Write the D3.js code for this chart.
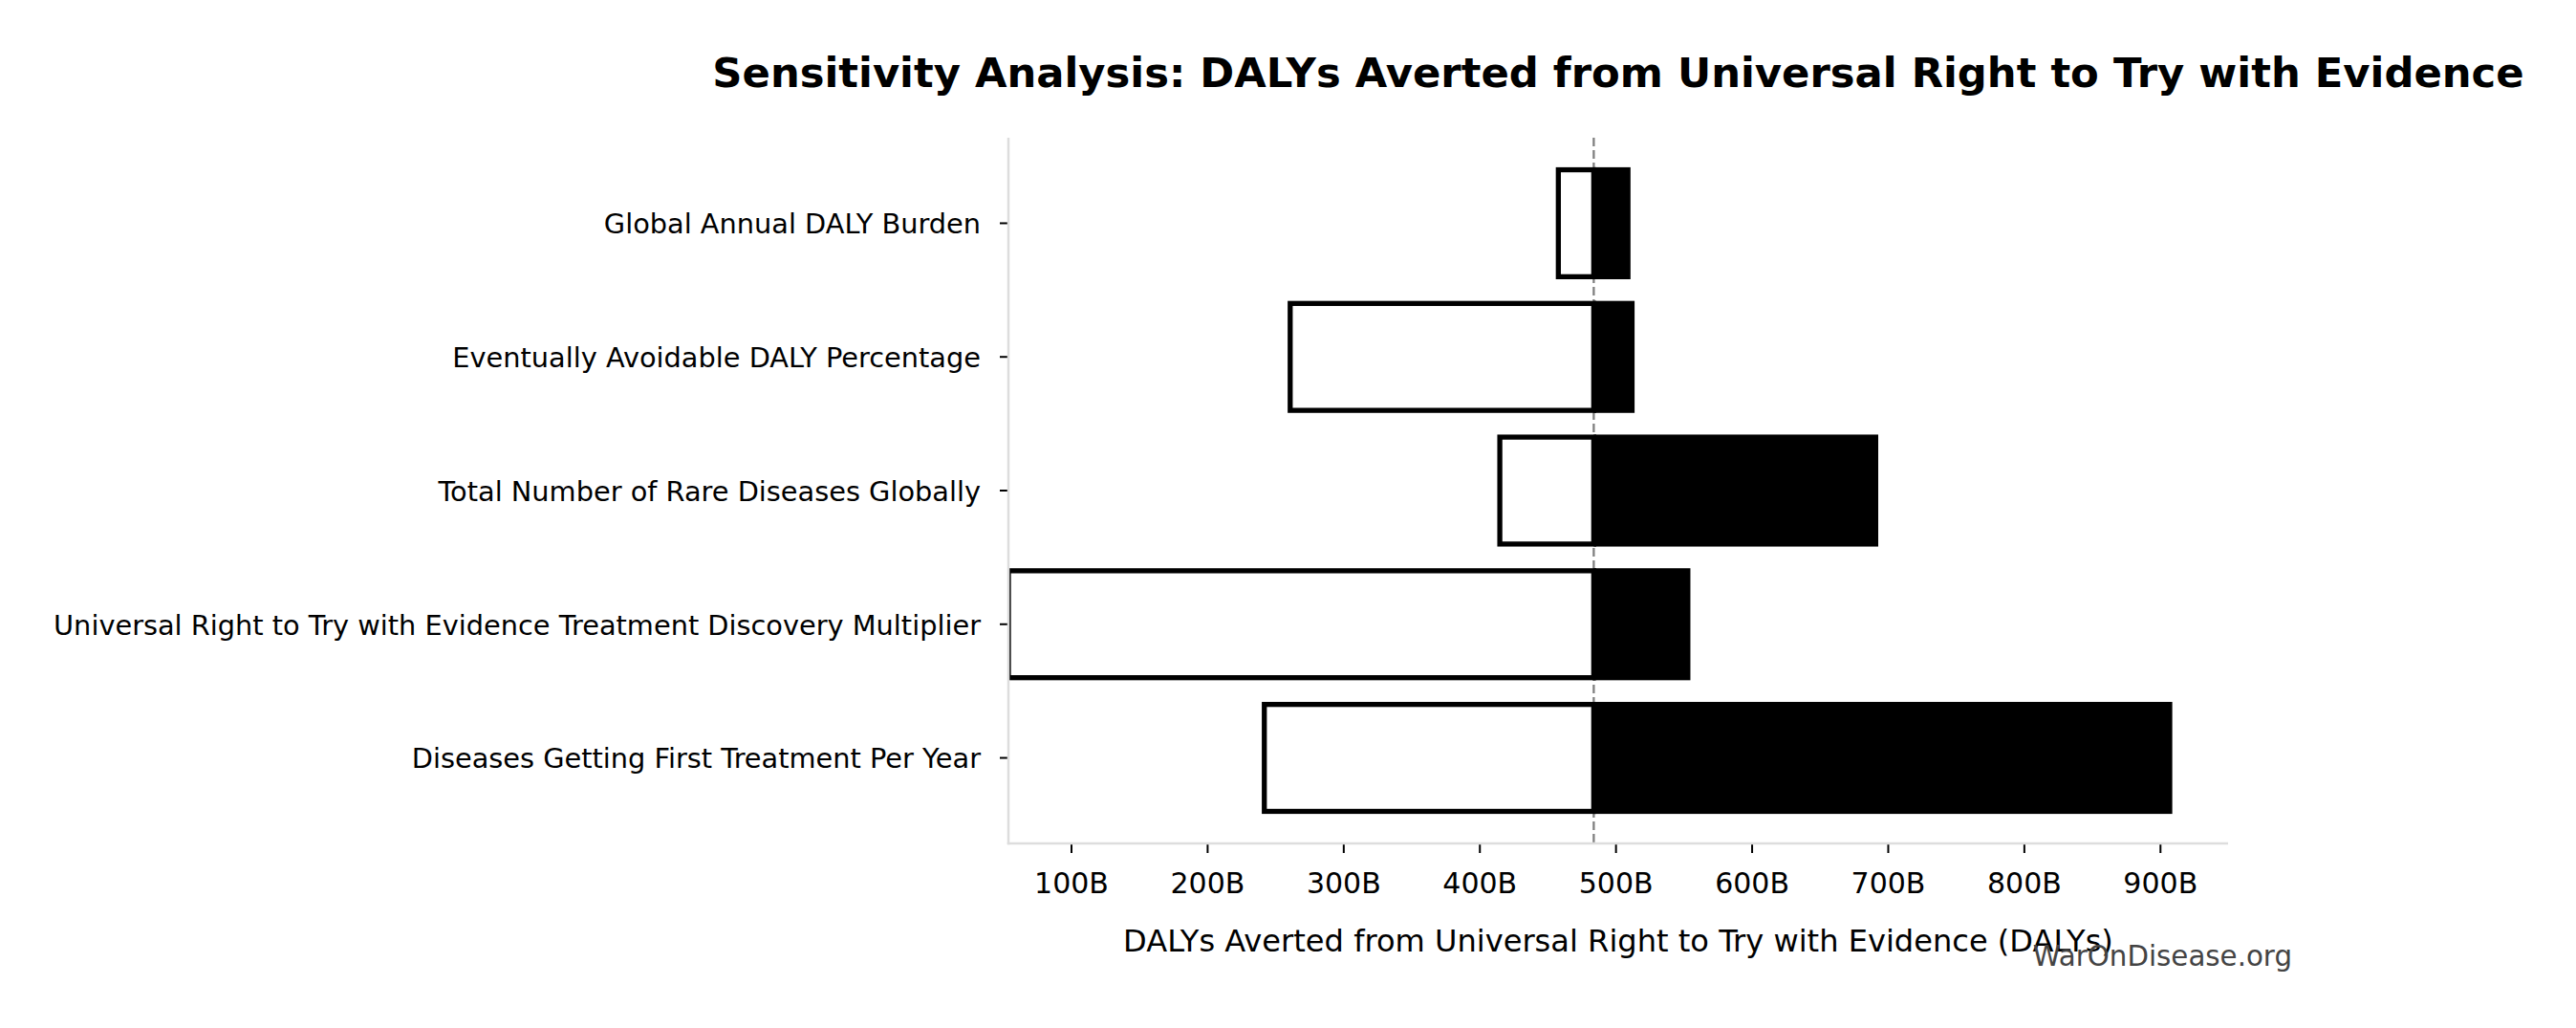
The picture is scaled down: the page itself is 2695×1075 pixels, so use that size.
<!DOCTYPE html>
<html>
<head>
<meta charset="utf-8">
<script src="https://cdn.jsdelivr.net/npm/d3@7"></script>
<style>
  body { margin: 0; background: #fff; }
  svg { display: block; font-family: "DejaVu Sans", sans-serif; }
</style>
</head>
<body>
<div id="chart"></div>
<script>
// rows listed top to bottom
const categories = [
    "Global Annual DALY Burden",
    "Eventually Avoidable DALY Percentage",
    "Total Number of Rare Diseases Globally",
    "Universal Right to Try with Evidence Treatment Discovery Multiplier",
    "Diseases Getting First Treatment Per Year"
];
const lowValues = [458, 261, 415, 54, 242];    // billions of DALYs
const highValues = [511, 514, 693, 555, 909];
const baseValue = 484;
const tickValues = [100, 200, 300, 400, 500, 600, 700, 800, 900];

const width = 2695, height = 1075;
const margin = { left: 1055, right: 2695 - 2331, top: 144, bottom: 1075 - 882 };

const svg = d3.select("#chart")
    .append("svg")
    .attr("width", width)
    .attr("height", height);

const x = d3.scaleLinear()
    .domain([d3.min(lowValues), 950])
    .range([margin.left, width - margin.right]);

const y = d3.scaleBand()
    .domain(categories)
    .range([margin.top, height - margin.bottom])
    .paddingInner(0.2)
    .paddingOuter(0.24);

const rows = categories.map((c, i) => ({ name: c, low: lowValues[i], high: highValues[i] }));

svg.append("clipPath")
    .attr("id", "plot-clip")
    .append("rect")
    .attr("x", margin.left)
    .attr("y", margin.top)
    .attr("width", width - margin.right - margin.left)
    .attr("height", height - margin.bottom - margin.top);

// baseline
svg.append("line")
    .attr("x1", x(baseValue))
    .attr("x2", x(baseValue))
    .attr("y1", margin.top)
    .attr("y2", height - margin.bottom)
    .attr("stroke", "#808080")
    .attr("stroke-width", 2.3)
    .attr("stroke-dasharray", "9,4");

const bars = svg.append("g").attr("clip-path", "url(#plot-clip)");

bars.selectAll("rect.low")
    .data(rows)
    .enter()
    .append("rect")
    .attr("class", "low")
    .attr("x", d => x(Math.min(d.low, baseValue)))
    .attr("y", d => y(d.name))
    .attr("width", d => Math.abs(x(baseValue) - x(d.low)))
    .attr("height", y.bandwidth())
    .attr("fill", "#fff")
    .attr("stroke", "#000")
    .attr("stroke-width", 5.3);

bars.selectAll("rect.high")
    .data(rows)
    .enter()
    .append("rect")
    .attr("class", "high")
    .attr("x", d => x(Math.min(d.high, baseValue)))
    .attr("y", d => y(d.name) - 2.65)
    .attr("width", d => Math.abs(x(d.high) - x(baseValue)))
    .attr("height", y.bandwidth() + 5.3)
    .attr("fill", "#000");

// x axis
const xAxis = svg.append("g")
    .attr("transform", `translate(0,${height - margin.bottom})`)
    .call(d3.axisBottom(x)
        .tickValues(tickValues)
        .tickFormat(d => d + "B")
        .tickSize(10)
        .tickSizeOuter(0)
        .tickPadding(21));
xAxis.select(".domain").remove();
xAxis.selectAll(".tick line").attr("stroke", "#000").attr("stroke-width", 2);
xAxis.selectAll(".tick text")
    .attr("fill", "#000")
    .style("font-size", "30px")
    .style("font-family", "DejaVu Sans");

// y axis
const yAxis = svg.append("g")
    .attr("transform", `translate(${margin.left},0)`)
    .call(d3.axisLeft(y)
        .tickSize(9)
        .tickSizeOuter(0)
        .tickPadding(20));
yAxis.select(".domain").remove();
yAxis.selectAll(".tick line").attr("stroke", "#000").attr("stroke-width", 2);
yAxis.selectAll(".tick text")
    .attr("fill", "#000")
    .attr("dy", "0.38em")
    .style("font-size", "28.8px")
    .style("font-family", "DejaVu Sans");

// spines
svg.append("line")
    .attr("x1", margin.left).attr("x2", margin.left)
    .attr("y1", margin.top).attr("y2", height - margin.bottom + 1.2)
    .attr("stroke", "#dddddd").attr("stroke-width", 2.5);
svg.append("line")
    .attr("x1", margin.left - 1.2).attr("x2", width - margin.right)
    .attr("y1", height - margin.bottom).attr("y2", height - margin.bottom)
    .attr("stroke", "#dddddd").attr("stroke-width", 2.5);

const cx = (margin.left + width - margin.right) / 2;

svg.append("text")
    .attr("x", cx)
    .attr("y", 91)
    .attr("text-anchor", "middle")
    .style("font-size", "43.3px")
    .style("font-weight", "bold")
    .text("Sensitivity Analysis: DALYs Averted from Universal Right to Try with Evidence");

svg.append("text")
    .attr("x", cx)
    .attr("y", 995)
    .attr("text-anchor", "middle")
    .style("font-size", "32.1px")
    .text("DALYs Averted from Universal Right to Try with Evidence (DALYs)");

svg.append("text")
    .attr("x", 2398)
    .attr("y", 1010)
    .attr("text-anchor", "end")
    .attr("fill", "#444")
    .style("font-size", "29.3px")
    .text("WarOnDisease.org");
</script>
</body>
</html>
